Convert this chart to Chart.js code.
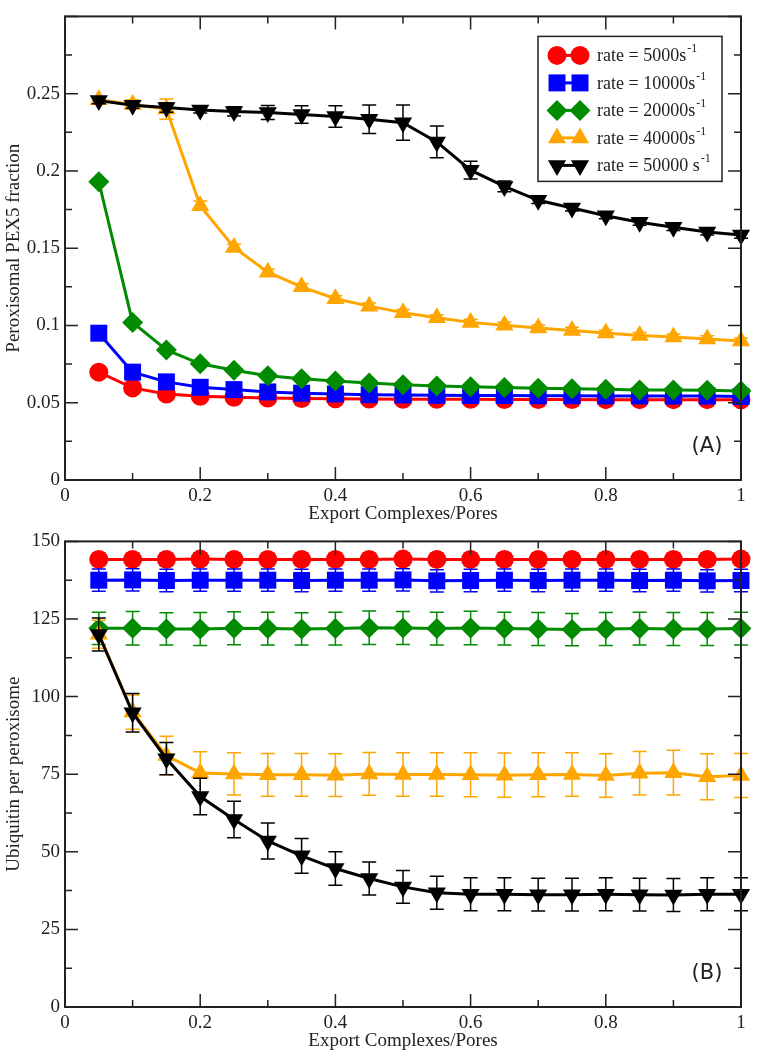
<!DOCTYPE html>
<html>
<head>
<meta charset="utf-8">
<script src="https://cdn.jsdelivr.net/npm/chart.js"></script>
<style>
  body { margin: 0; background: #fff; }
  canvas { display: block; }
</style>
</head>
<body>
<canvas id="pexChart" width="759" height="525"></canvas>
<canvas id="ubiChart" width="759" height="533"></canvas>
<script>
var exportRatio = [0.05, 0.1, 0.15, 0.2, 0.25, 0.3, 0.35, 0.4, 0.45, 0.5, 0.55, 0.6, 0.65, 0.7, 0.75, 0.8, 0.85, 0.9, 0.95, 1]
var rateNames = ["rate = 5000s", "rate = 10000s", "rate = 20000s", "rate = 40000s", "rate = 50000 s"]
var rateColors = ["#ff0000", "#0000ff", "#008b00", "#ffa500", "#000000"]
var rateMarkers = ["circle", "rect", "rectRot", "triangle", "triangle"]
var markerTurn = [0, 0, 0, 0, 180]
var markerSize = [9.5, 12, 10.5, 10.5, 10.5]

// (A) peroxisomal PEX5 fraction
var pex5000 = [0.0698, 0.0596, 0.0556, 0.0542, 0.0535, 0.0530, 0.0527, 0.0525, 0.0524, 0.0523, 0.0522, 0.0522, 0.0521, 0.0521, 0.0521, 0.0520, 0.0520, 0.0520, 0.0520, 0.0519]
var pex10000 = [0.0950, 0.0698, 0.0635, 0.0600, 0.0585, 0.0570, 0.0562, 0.0557, 0.0552, 0.0550, 0.0548, 0.0547, 0.0546, 0.0545, 0.0545, 0.0544, 0.0544, 0.0543, 0.0543, 0.0540]
var pex20000 = [0.193, 0.102, 0.0842, 0.0752, 0.0710, 0.0675, 0.0655, 0.0640, 0.0628, 0.0617, 0.0608, 0.0603, 0.0598, 0.0593, 0.0591, 0.0588, 0.0583, 0.0582, 0.0580, 0.0576]
var pex40000 = [0.246, 0.243, 0.240, 0.1775, 0.1505, 0.1345, 0.1250, 0.1173, 0.1125, 0.1083, 0.1050, 0.1020, 0.1002, 0.0983, 0.0968, 0.0951, 0.0935, 0.0925, 0.0913, 0.0899]
var pex50000 = [0.2455, 0.2425, 0.241, 0.2395, 0.2385, 0.2378, 0.2365, 0.2352, 0.2335, 0.2312, 0.2188, 0.2005, 0.1900, 0.1810, 0.1760, 0.1710, 0.1668, 0.1635, 0.1605, 0.1585]
var pexErr5000 = [0.001, 0.001, 0.001, 0.001, 0.001, 0.001, 0.001, 0.001, 0.001, 0.001, 0.001, 0.001, 0.001, 0.001, 0.001, 0.001, 0.001, 0.001, 0.001, 0.001]
var pexErr10000 = [0.001, 0.001, 0.001, 0.001, 0.001, 0.001, 0.001, 0.001, 0.001, 0.001, 0.001, 0.001, 0.001, 0.001, 0.001, 0.001, 0.001, 0.001, 0.001, 0.001]
var pexErr20000 = [0.002, 0.001, 0.001, 0.001, 0.001, 0.001, 0.001, 0.001, 0.001, 0.001, 0.001, 0.001, 0.001, 0.001, 0.001, 0.001, 0.001, 0.001, 0.001, 0.001]
var pexErr40000 = [0.002, 0.003, 0.0065, 0.003, 0.002, 0.002, 0.002, 0.002, 0.002, 0.002, 0.002, 0.002, 0.002, 0.002, 0.002, 0.002, 0.002, 0.002, 0.002, 0.002]
var pexErr50000 = [0.002, 0.002, 0.003, 0.002, 0.003, 0.0045, 0.0057, 0.007, 0.0092, 0.0114, 0.0103, 0.0058, 0.0035, 0.002, 0.002, 0.002, 0.002, 0.002, 0.002, 0.002]

// (B) ubiquitin per peroxisome
var ubi5000 = [144.2, 144.2, 144.2, 144.3, 144.2, 144.2, 144.2, 144.2, 144.2, 144.3, 144.2, 144.2, 144.2, 144.2, 144.2, 144.2, 144.2, 144.2, 144.2, 144.3]
var ubi10000 = [137.5, 137.6, 137.4, 137.5, 137.5, 137.5, 137.4, 137.5, 137.5, 137.6, 137.3, 137.4, 137.5, 137.4, 137.5, 137.5, 137.4, 137.5, 137.3, 137.4]
var ubi20000 = [122, 122, 121.8, 121.8, 122, 121.9, 121.8, 121.9, 122.2, 122.1, 121.9, 122.1, 121.9, 121.8, 121.6, 121.8, 121.9, 121.8, 121.8, 121.9]
var ubi40000 = [120.1, 95, 81, 75.4, 75.1, 74.8, 74.8, 74.7, 75.1, 74.9, 74.9, 74.8, 74.7, 74.8, 74.9, 74.6, 75.3, 75.5, 74.2, 74.6]
var ubi50000 = [120, 94.8, 80, 67.8, 60.4, 53.5, 48.7, 44.6, 41.4, 38.7, 36.8, 36.3, 36.3, 36.2, 36.2, 36.3, 36.2, 36.1, 36.3, 36.3]
var ubiErr5000 = [2, 2, 2, 2, 2, 2, 2, 2, 2, 2, 2, 2, 2, 2, 2, 2, 2, 2, 2, 2]
var ubiErr10000 = [3.6, 3.6, 3.6, 3.6, 3.6, 3.6, 3.6, 3.6, 3.6, 3.6, 3.6, 3.6, 3.6, 3.6, 3.6, 3.6, 3.6, 3.6, 3.6, 3.6]
var ubiErr20000 = [5.2, 5.4, 5.2, 5.3, 5.3, 5.3, 5.2, 5.3, 5.4, 5.3, 5.3, 5.4, 5.3, 5.3, 5.2, 5.3, 5.3, 5.3, 5.3, 5.3]
var ubiErr40000 = [4.5, 5.5, 6.2, 6.8, 6.8, 6.9, 6.9, 6.9, 6.9, 7, 7, 7.1, 7.1, 7.1, 7, 7, 7, 7.2, 7.4, 7.1]
var ubiErr50000 = [5.3, 6.2, 5.2, 5.9, 5.9, 5.8, 5.6, 5.4, 5.3, 5.3, 5.3, 5.3, 5.3, 5.3, 5.3, 5.3, 5.3, 5.3, 5.3, 5.3]

var serif = "'Liberation Serif', 'Times New Roman', serif"
var ink = "#222"

function toPoints(values) {
   return exportRatio.map(function (x, i) {
      return { x: x, y: values[i] }
   })
}

// error bars, box with inward ticks on all sides, legend and panel tag
var figureFrame = {
   id: "figureFrame",
   beforeDatasetDraw: function (chart, args, opts) {
      var errs = opts.errors[args.index]
      var vals = chart.data.datasets[args.index].data
      var xs = chart.scales.x, ys = chart.scales.y, ctx = chart.ctx
      ctx.save()
      ctx.strokeStyle = rateColors[args.index]
      ctx.lineWidth = 1.5
      ctx.beginPath()
      vals.forEach(function (p, i) {
         var px = xs.getPixelForValue(p.x)
         var y1 = ys.getPixelForValue(p.y - errs[i])
         var y2 = ys.getPixelForValue(p.y + errs[i])
         ctx.moveTo(px, y1); ctx.lineTo(px, y2)
         ctx.moveTo(px - 7, y1); ctx.lineTo(px + 7, y1)
         ctx.moveTo(px - 7, y2); ctx.lineTo(px + 7, y2)
      })
      ctx.stroke()
      ctx.restore()
   },
   afterDraw: function (chart, args, opts) {
      var ctx = chart.ctx, a = chart.chartArea
      var xs = chart.scales.x, ys = chart.scales.y
      ctx.save()
      ctx.strokeStyle = ink
      ctx.lineWidth = 1.5
      ctx.beginPath()
      for (var k = 0; k * opts.minorX <= xs.max + 1e-9; k++) {
         var px = xs.getPixelForValue(k * opts.minorX), len = k % 2 ? 7 : 13
         ctx.moveTo(px, a.bottom); ctx.lineTo(px, a.bottom - len)
         ctx.moveTo(px, a.top); ctx.lineTo(px, a.top + len)
      }
      for (var j = 0; j * opts.minorY <= ys.max + 1e-9; j++) {
         var py = ys.getPixelForValue(j * opts.minorY), tl = j % 2 ? 7 : 13
         ctx.moveTo(a.left, py); ctx.lineTo(a.left + tl, py)
         ctx.moveTo(a.right, py); ctx.lineTo(a.right - tl, py)
      }
      ctx.stroke()
      ctx.lineWidth = 2
      ctx.strokeRect(a.left, a.top, a.right - a.left, a.bottom - a.top)

      ctx.fillStyle = ink
      ctx.font = "21px 'DejaVu Sans', sans-serif"
      ctx.textAlign = "center"
      ctx.textBaseline = "middle"
      ctx.fillText(opts.tag, a.right - 34, a.bottom - 33)

      if (opts.legend) {
         var bx = a.right - 203, by = a.top + 20, bw = 184, bh = 145
         ctx.fillStyle = "#fff"
         ctx.fillRect(bx, by, bw, bh)
         ctx.lineWidth = 1.5
         ctx.strokeStyle = ink
         ctx.strokeRect(bx, by, bw, bh)
         rateNames.forEach(function (name, i) {
            var ry = by + 19 + i * 27.5
            ctx.strokeStyle = rateColors[i]
            ctx.fillStyle = rateColors[i]
            ctx.lineWidth = 3
            ctx.beginPath()
            ctx.moveTo(bx + 19, ry); ctx.lineTo(bx + 42, ry)
            ctx.stroke()
            var style = { pointStyle: rateMarkers[i], radius: markerSize[i], rotation: markerTurn[i], borderWidth: 0 }
            Chart.helpers.drawPoint(ctx, style, bx + 19, ry)
            Chart.helpers.drawPoint(ctx, style, bx + 42, ry)
            ctx.fillStyle = ink
            ctx.textAlign = "left"
            ctx.textBaseline = "alphabetic"
            ctx.font = "18px " + serif
            ctx.fillText(name, bx + 59, ry + 6)
            var w = ctx.measureText(name).width
            ctx.font = "12px " + serif
            ctx.fillText("-1", bx + 60 + w, ry - 3)
         })
      }
      ctx.restore()
   },
}

function makePanel(id, series, errors, yCfg, tag, legend, layout) {
   var datasets = series.map(function (values, i) {
      return {
         label: rateNames[i],
         data: toPoints(values),
         borderColor: rateColors[i],
         backgroundColor: rateColors[i],
         borderWidth: 3,
         pointStyle: rateMarkers[i],
         pointRotation: markerTurn[i],
         pointRadius: markerSize[i],
         pointBorderWidth: 0,
         tension: 0,
         clip: false,
         order: series.length - 1 - i,
      }
   })
   return new Chart(document.getElementById(id), {
      type: "line",
      data: { datasets: datasets },
      plugins: [figureFrame],
      options: {
         responsive: false,
         animation: false,
         layout: { padding: { top: layout.top, right: 18, left: 0, bottom: 0 } },
         plugins: {
            legend: { display: false },
            tooltip: { enabled: false },
            figureFrame: { errors: errors, tag: tag, legend: legend, minorX: 0.1, minorY: yCfg.minor },
         },
         scales: {
            x: {
               type: "linear",
               min: 0,
               max: 1,
               grid: { display: false, drawTicks: false },
               border: { display: false },
               ticks: {
                  stepSize: 0.2,
                  autoSkip: false,
                  maxRotation: 0,
                  padding: 5,
                  color: ink,
                  font: { family: serif, size: 19 },
                  callback: function (v) { return String(Math.round(v * 10) / 10) },
               },
               title: {
                  display: true,
                  text: "Export Complexes/Pores",
                  color: ink,
                  font: { family: serif, size: 19 },
                  padding: { top: 0, bottom: layout.titleGap },
               },
               afterFit: function (scale) { scale.height = layout.xHeight },
            },
            y: {
               min: 0,
               max: yCfg.max,
               grid: { display: false, drawTicks: false },
               border: { display: false },
               ticks: {
                  stepSize: yCfg.step,
                  autoSkip: false,
                  padding: 5,
                  color: ink,
                  font: { family: serif, size: 19 },
                  callback: yCfg.label,
               },
               title: {
                  display: true,
                  text: yCfg.title,
                  color: ink,
                  font: { family: serif, size: 19 },
                  padding: { top: 3, bottom: 0 },
               },
               afterFit: function (scale) { scale.width = 65 },
            },
         },
      },
   })
}

makePanel("pexChart",
   [pex5000, pex10000, pex20000, pex40000, pex50000],
   [pexErr5000, pexErr10000, pexErr20000, pexErr40000, pexErr50000],
   {
      max: 0.3, step: 0.05, minor: 0.025, title: "Peroxisomal PEX5 fraction",
      label: function (v) { return v > 0.26 ? "" : String(Math.round(v * 100) / 100) },
   },
   "(A)", true, { top: 7, xHeight: 45, titleGap: 0 })

makePanel("ubiChart",
   [ubi5000, ubi10000, ubi20000, ubi40000, ubi50000],
   [ubiErr5000, ubiErr10000, ubiErr20000, ubiErr40000, ubiErr50000],
   {
      max: 150, step: 25, minor: 12.5, title: "Ubiquitin per peroxisome",
      label: function (v) { return String(v) },
   },
   "(B)", false, { top: 9, xHeight: 51, titleGap: 6 })
</script>
</body>
</html>
